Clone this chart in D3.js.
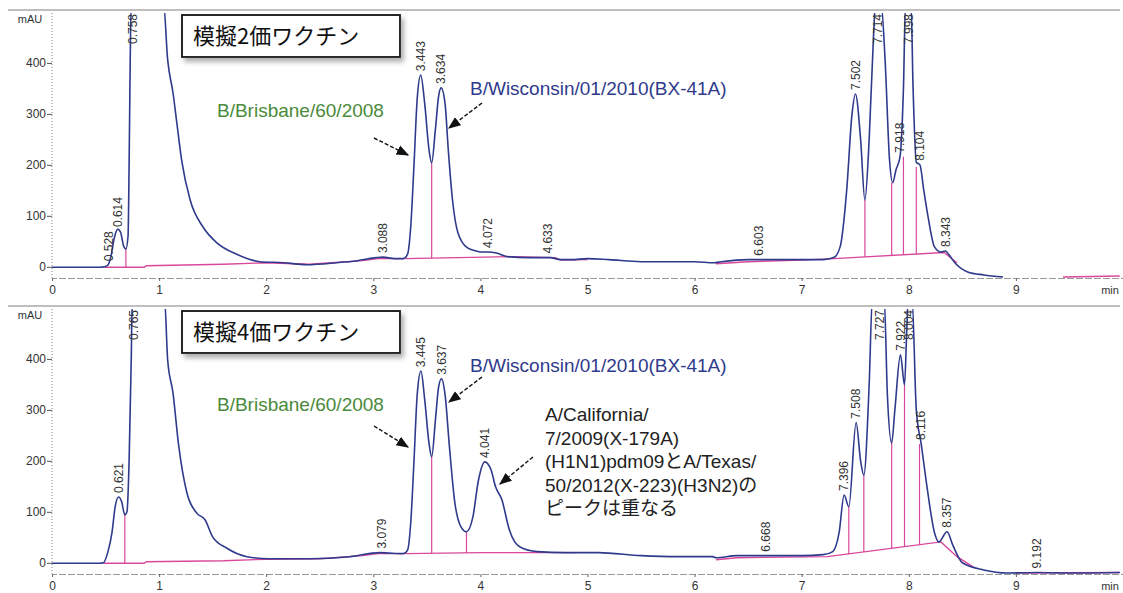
<!DOCTYPE html>
<html>
<head>
<meta charset="utf-8">
<script src="https://cdn.jsdelivr.net/npm/d3@7"></script>
<style>
  body { margin: 0; background: #fff; }
  svg { display: block; font-family: "Liberation Sans", Arial, sans-serif; }
</style>
</head>
<body>
<svg width="1123" height="593"></svg>
<script>
// chromatogram traces: [time (min), mAU]
const topTrace = [[0,-1],[0.45,-1],[0.49,0],[0.52,3],[0.55,20],[0.58,55],[0.614,74],[0.64,68],[0.67,40],[0.69,35],[0.71,60],[0.72,200],[0.73,400],[0.74,520],
  [1.04,520],[1.08,406],[1.13,341],[1.17,275],[1.21,210],[1.29,131],[1.41,78],[1.54,47],[1.73,24],[1.94,10],[2.16,8],[2.38,4],[2.66,8],[2.85,12],[3.03,18],[3.09,19],[3.2,16],[3.28,16],
  [3.32,25],[3.35,80],[3.38,200],[3.41,330],[3.443,376],[3.48,320],[3.52,230],[3.545,204],[3.58,270],[3.61,335],[3.634,351],[3.67,320],[3.7,230],[3.74,130],[3.79,67],[3.88,37],[3.96,31],[4.0,29],[4.07,29],[4.15,27],[4.25,20],
  [4.45,18],[4.65,18],[4.75,14],[4.85,14],[5.0,16],[5.2,14],[5.5,10],[6.0,10],[6.18,8],[6.25,10],[6.5,14],[6.9,14],[7.2,14],
  [7.3,18],[7.36,40],[7.42,150],[7.47,300],[7.502,339],[7.55,250],[7.59,131],[7.63,250],[7.67,450],[7.69,520],[7.74,520],[7.78,400],[7.82,210],[7.85,165],[7.88,190],[7.918,216],[7.95,350],[7.97,520],[8.02,520],[8.04,350],[8.07,205],[8.104,200],[8.14,150],[8.18,98],[8.24,39],[8.3,29],[8.343,31],[8.37,25],[8.43,8],[8.55,-10],[8.7,-16],[8.88,-20]];

const bottomTrace = [[0,-1],[0.45,-1],[0.48,0],[0.52,20],[0.56,59],[0.59,110],[0.621,129],[0.65,120],[0.68,94],[0.7,100],[0.72,200],[0.74,400],[0.75,520],
  [1.05,520],[1.08,398],[1.13,333],[1.18,235],[1.26,137],[1.35,98],[1.43,84],[1.5,51],[1.63,29],[1.82,12],[2.03,8],[2.41,8],[2.78,12],[3.06,20],[3.15,19],[3.28,18],
  [3.32,25],[3.35,80],[3.38,200],[3.41,330],[3.445,376],[3.48,320],[3.52,235],[3.545,208],[3.58,280],[3.61,345],[3.637,361],[3.67,330],[3.71,230],[3.76,120],[3.82,70],[3.87,61],[3.93,90],[3.98,160],[4.041,198],[4.1,182],[4.14,150],[4.2,124],[4.27,65],[4.37,31],[4.53,22],
  [4.8,20],[5.1,20],[5.5,14],[5.85,12],[6.17,12],[6.2,10],[6.4,14],[6.5,14],[7.0,14],[7.2,16],
  [7.29,22],[7.35,60],[7.396,133],[7.44,110],[7.508,275],[7.55,200],[7.58,172],[7.63,350],[7.66,520],[7.77,520],[7.8,330],[7.84,235],[7.87,300],[7.922,408],[7.96,349],[7.98,450],[7.995,520],[8.03,520],[8.07,300],[8.116,233],[8.17,149],[8.24,59],[8.28,41],[8.357,61],[8.41,35],[8.5,0],[8.7,-14],[8.92,-20],[9.2,-19],[9.5,-20],[9.97,-19]];

// integration baselines (null = gap)
const topBaseline = [[0.49,-1],[0.86,-1],[0.88,2],[1.6,5],[2.0,8],[2.4,5],[2.9,12],[3.05,16],[3.28,16],null,
  [3.3,16],[4.3,20],[4.7,18],[4.75,13],[5.0,14],null,
  [6.2,6],[6.5,10],[7.0,13],[7.3,16],[8.33,28],[8.45,8],null,
  [9.44,-20],[9.97,-18]];
const bottomBaseline = [[0.48,-1],[0.86,-1],[0.88,2],[1.6,4],[2.0,7],[2.5,8],[2.9,14],[3.05,18],[3.28,18],null,
  [3.3,18],[4.0,20],[4.9,20],null,
  [6.2,6],[6.4,10],[7.24,12],[8.3,41],[8.45,12],[8.6,-8],null,
  [9.0,-20],[9.97,-19]];

// peak separation drop lines: [time, baseline mAU, trace mAU]
const topDrops = [[0.69,-1,35],[3.545,17,204],[7.59,19,131],[7.84,22,165],[7.95,23,216],[8.07,25,196]];
const bottomDrops = [[0.68,-1,94],[3.545,18,208],[3.87,19,61],[7.44,17,110],[7.58,21,172],[7.84,28,235],[7.96,31,349],[8.1,35,233]];

// retention time labels: [label, apex mAU] (null = off scale)
const topPeaks = [["0.528",3],["0.614",70],["0.758",null],["3.088",19],["3.443",376],["3.634",351],["4.072",29],["4.633",18],["6.603",14],
  ["7.502",339],["7.714",null],["7.918",216],["7.998",null],["8.104",200],["8.343",31]];
const bottomPeaks = [["0.621",129],["0.765",null],["3.079",20],["3.445",376],["3.637",361],["4.041",198],["6.668",14],
  ["7.396",133],["7.508",275],["7.727",null],["7.922",408],["8.004",null],["8.116",233],["8.357",61],["9.192",-19]];

const yTicks = [0, 100, 200, 300, 400];
const xTicks = [0, 1, 2, 3, 4, 5, 6, 7, 8, 9];

const svg = d3.select("svg");
const W = 1123;
const navy = "#2f3a8c", pink = "#d9489b", green = "#4a8a3a";

const x = d3.scaleLinear().domain([0, 10]).range([52, W]);

const defs = svg.append("defs");
defs.append("marker")
  .attr("id", "arr").attr("viewBox", "0 0 10 10")
  .attr("refX", 9).attr("refY", 5)
  .attr("markerWidth", 9).attr("markerHeight", 9)
  .attr("orient", "auto")
  .append("path").attr("d", "M0,1 L10,5 L0,9 z").attr("fill", "#111");
const shadow = defs.append("filter").attr("id", "shadow")
  .attr("x", "-10%").attr("y", "-10%").attr("width", "130%").attr("height", "150%");
shadow.append("feDropShadow").attr("dx", 3).attr("dy", 4).attr("stdDeviation", 2.5)
  .attr("flood-color", "#999").attr("flood-opacity", 0.8);

function panel(top, trace, base, drops, peaks, title, idx) {
  const y = d3.scaleLinear().domain([-22, 498]).range([top + 265, top]);
  const g = svg.append("g");

  // frame line on top
  g.append("line").attr("x1", 8).attr("x2", W - 3)
    .attr("y1", top - 3).attr("y2", top - 3)
    .attr("stroke", "#aaa").attr("stroke-width", 1.5);

  // y axis
  const ya = g.append("g").attr("transform", `translate(52,0)`)
    .call(d3.axisLeft(y).tickValues(yTicks).tickSize(5).tickPadding(1));
  ya.select(".domain").remove();
  ya.selectAll("line").attr("stroke", "#555");
  ya.selectAll("text").attr("font-size", 12).attr("fill", "#333");
  g.append("line").attr("x1", 52).attr("x2", 52)
    .attr("y1", top).attr("y2", top + 265)
    .attr("stroke", "#888").attr("stroke-dasharray", "1,2");
  g.append("text").attr("x", 30).attr("y", top + 10)
    .attr("text-anchor", "middle").attr("font-size", 11).attr("fill", "#333").text("mAU");

  // x axis
  const xa = g.append("g").attr("transform", `translate(0,${top + 265})`)
    .call(d3.axisBottom(x).tickValues(xTicks).tickSize(3).tickPadding(4).tickFormat(d3.format("d")));
  xa.select(".domain").attr("stroke", "#999").attr("stroke-dasharray", "7,2");
  xa.selectAll("line").attr("stroke", "#666");
  xa.selectAll("text").attr("font-size", 12).attr("fill", "#333");
  g.append("text").attr("x", 1110).attr("y", top + 281)
    .attr("text-anchor", "middle").attr("font-size", 11).attr("fill", "#333").text("min");

  const clipId = "clip" + idx;
  defs.append("clipPath").attr("id", clipId).append("rect")
    .attr("x", 52).attr("y", top).attr("width", W - 52).attr("height", 267);
  const plot = g.append("g").attr("clip-path", `url(#${clipId})`);

  const baseLine = d3.line().defined(d => d !== null)
    .x(d => x(d[0])).y(d => y(d[1]));
  plot.append("path").datum(base).attr("d", baseLine)
    .attr("fill", "none").attr("stroke", pink).attr("stroke-width", 1.4);

  plot.selectAll(".drop").data(drops).enter().append("line")
    .attr("x1", d => x(d[0])).attr("x2", d => x(d[0]))
    .attr("y1", d => y(d[1])).attr("y2", d => y(d[2]))
    .attr("stroke", pink).attr("stroke-width", 1.2);

  const traceLine = d3.line().curve(d3.curveMonotoneX)
    .x(d => x(d[0])).y(d => y(d[1]));
  plot.append("path").datum(trace).attr("d", traceLine)
    .attr("fill", "none").attr("stroke", navy).attr("stroke-width", 1.6);

  // retention time labels
  g.selectAll(".rt").data(peaks).enter().append("text")
    .attr("transform", d => {
      const yy = d[1] === null ? top + 1 : y(d[1]) - 4;
      return `translate(${x(+d[0])},${yy}) rotate(-90)`;
    })
    .attr("text-anchor", d => d[1] === null ? "end" : "start")
    .attr("dy", "0.35em")
    .attr("font-size", 12).attr("fill", "#333")
    .text(d => d[0]);

  // title box
  g.append("rect").attr("x", 182).attr("y", top + 2).attr("width", 218).attr("height", 42)
    .attr("fill", "#fff").attr("stroke", "#111").attr("stroke-width", 1.8)
    .attr("filter", "url(#shadow)");
  g.append("text").attr("x", 193).attr("y", top + 31)
    .attr("font-family", "'Noto Sans CJK JP', sans-serif")
    .attr("font-size", 22).attr("fill", "#111").text(title);

  return y;
}

const yTop = panel(13, topTrace, topBaseline, topDrops, topPeaks, "模擬2価ワクチン", 0);
const yBot = panel(309, bottomTrace, bottomBaseline, bottomDrops, bottomPeaks, "模擬4価ワクチン", 1);

// annotations
function label(xp, yp, txt, color) {
  svg.append("text").attr("x", xp).attr("y", yp)
    .attr("font-size", 19).attr("fill", color).text(txt);
}
function arrow(x1, y1, x2, y2) {
  svg.append("line").attr("x1", x1).attr("y1", y1).attr("x2", x2).attr("y2", y2)
    .attr("stroke", "#111").attr("stroke-width", 1.4).attr("stroke-dasharray", "4,2")
    .attr("marker-end", "url(#arr)");
}

label(217, 117, "B/Brisbane/60/2008", green);
label(470, 95, "B/Wisconsin/01/2010(BX-41A)", navy);
arrow(374, 138, 408, 155);
arrow(482, 103, 449, 128);

label(217, 411, "B/Brisbane/60/2008", green);
label(470, 372, "B/Wisconsin/01/2010(BX-41A)", navy);
arrow(374, 426, 408, 447);
arrow(482, 377, 449, 402);
arrow(533, 457, 500, 484);

const note = ["A/California/", "7/2009(X-179A)", "(H1N1)pdm09とA/Texas/", "50/2012(X-223)(H3N2)の", "ピークは重なる"];
svg.append("text").attr("font-size", 19).attr("fill", "#222")
  .attr("font-family", "'Liberation Sans', 'Noto Sans CJK JP', sans-serif")
  .selectAll("tspan").data(note).enter().append("tspan")
  .attr("x", 545).attr("y", (d, i) => 421 + i * 23.5)
  .text(d => d);
</script>
</body>
</html>
